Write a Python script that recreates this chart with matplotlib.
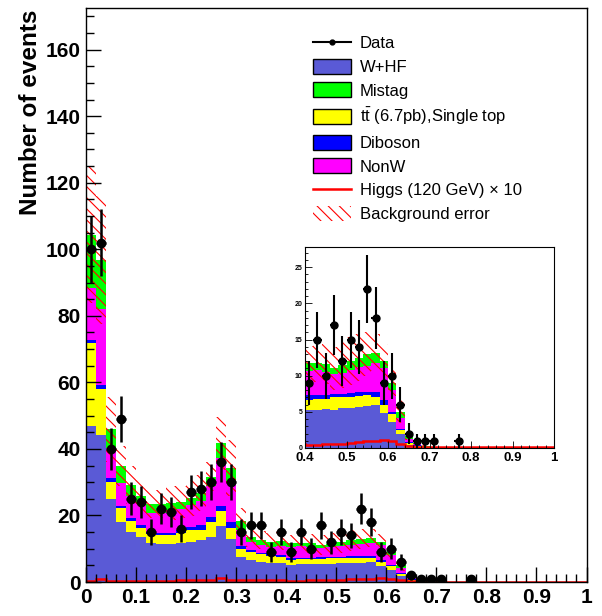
import matplotlib
matplotlib.use('Agg')
import matplotlib.pyplot as plt
from matplotlib.lines import Line2D
from matplotlib.patches import Patch
from matplotlib.ticker import MultipleLocator, FormatStrFormatter
import numpy as np

plt.rcParams['hatch.color'] = 'red'
plt.rcParams['hatch.linewidth'] = 0.8

# 50 bins of width 0.02 between 0 and 1
n_bins = 50
edges = np.linspace(0, 1, n_bins + 1)
centers = 0.5 * (edges[1:] + edges[:-1])

# background components, stacked bottom to top
w_hf = [47, 44.2, 24.9, 18.1, 15.1, 13.6, 11.6, 11.3, 11.3, 11.6,
        12.1, 12.6, 13.6, 16.8, 12.8, 7.6, 6.6, 6.1, 5.8, 5.8,
        5.2, 5.3, 5.4, 5.3, 5.5, 5.6, 5.7, 5.8, 5.9, 4.8,
        3.6, 1.9, 0.4, 0.2, 0.1, 0.05] + [0] * 14
top_single = [24.8, 13.8, 5.3, 4.1, 3.1, 2.5, 2.8, 2.8, 2.8, 3.2,
              3.5, 3.0, 4.5, 4.4, 3.3, 2.2, 2.5, 2.2, 2.1, 1.8,
              1.5, 1.5, 1.4, 1.7, 1.6, 1.5, 1.5, 1.5, 1.2, 1.2,
              1.1, 0.6, 0.3, 0.1, 0.02, 0.01] + [0] * 14
diboson = [1.0, 1.2, 1.0, 0.7, 1.0, 1.0, 0.7, 0.5, 0.7, 0.8,
           1.0, 1.5, 1.5, 1.7, 2.0, 1.0, 0.5, 0.5, 0.7, 0.5,
           0.6, 0.5, 0.5, 0.4, 0.4, 0.5, 0.5, 0.5, 0.6, 0.6,
           0.3, 0.1, 0.1, 0.05, 0.02, 0.01] + [0] * 14
non_w = [15.5, 22.8, 9.0, 6.8, 6.5, 6.6, 5.6, 6.1, 6.7, 6.3,
         6.6, 7.1, 9.1, 14.3, 11.6, 4.8, 2.5, 2.3, 2.0, 2.7,
         3.3, 3.5, 3.2, 2.9, 2.9, 3.2, 3.5, 3.5, 4.0, 4.5,
         3.0, 1.6, 0.4, 0.15, 0.06, 0.03] + [0] * 14
mistag = [16.1, 14.8, 5.7, 5.2, 3.5, 2.0, 2.8, 2.8, 2.2, 2.0,
          2.0, 2.5, 3.0, 4.5, 4.5, 2.8, 1.5, 1.5, 1.5, 1.5,
          1.1, 0.9, 1.1, 0.7, 1.1, 1.2, 1.3, 1.7, 1.5, 0.9,
          1.0, 0.8, 0.4, 0.2, 0.1, 0.05] + [0] * 14

bkg_err = [20.6, 19.2, 9.8, 6.1, 5.8, 5.0, 4.2, 4.2, 5.0, 4.8,
           5.5, 5.5, 4.5, 8.0, 8.5, 3.8, 3.0, 2.8, 2.7, 2.7,
           2.4, 2.6, 2.8, 3.0, 3.2, 3.3, 3.2, 3.0, 2.6, 2.4,
           1.8, 1.6, 0.5, 0.2, 0.1, 0.05] + [0] * 14

higgs_x10 = [0.3, 0.9, 0.3, 0.3, 0.3, 0.3, 0.3, 0.3, 0.3, 0.6,
             0.6, 0.6, 0.6, 1.2, 0.7, 0.5, 0.5, 0.5, 0.5, 0.5,
             0.4, 0.4, 0.5, 0.5, 0.6, 0.7, 0.8, 0.9, 0.9, 1.1,
             0.9, 0.6, 0.3, 0.2, 0.1, 0.1] + [0.1] * 14

data = [100, 102, 40, 49, 25, 24, 15, 22, 21, 16,
        27, 28, 30, 36, 30, 15, 17, 17, 9, 15,
        9, 15, 10, 17, 12, 15, 14, 22, 18, 9,
        10, 6, 2, 1, 1, 1, 0, 0, 1, 0] + [0] * 10

components = [(w_hf, '#5a5ad6'), (top_single, '#ffff00'), (diboson, '#0000ff'),
              (non_w, '#ff00ff'), (mistag, '#00ff00')]

HATCH = '\\\\\\'


def draw(ax, ms, elw):
    bottom = np.zeros(n_bins)
    for vals, col in components:
        top = bottom + np.array(vals)
        ax.stairs(top, edges, baseline=bottom, fill=True, color=col, lw=0)
        bottom = top
    err = np.array(bkg_err)
    ax.stairs(bottom + err, edges, baseline=bottom - err, fill=True,
              facecolor='none', edgecolor='red', hatch=HATCH, lw=0)
    ax.stairs(higgs_x10, edges, color='red', lw=1.8)
    d = np.array(data, dtype=float)
    m = d > 0
    ax.errorbar(centers[m], d[m], yerr=np.sqrt(d[m]), xerr=0.01, fmt='o',
                color='black', ms=ms, elinewidth=elw, capsize=0)


fig = plt.figure(figsize=(6.02, 6.16), dpi=100)
ax = fig.add_axes([86 / 602, 1 - 582 / 616, 500.5 / 602, 574 / 616])
draw(ax, 6, 1.8)
ax.set_xlim(0, 1)
ax.set_ylim(0, 172.5)
ax.xaxis.set_major_locator(MultipleLocator(0.1))
ax.xaxis.set_minor_locator(MultipleLocator(0.02))
ax.yaxis.set_major_locator(MultipleLocator(20))
ax.yaxis.set_minor_locator(MultipleLocator(5))
ax.xaxis.set_major_formatter(FormatStrFormatter('%g'))
ax.tick_params(which='both', direction='in', top=False, right=False, width=1)
ax.tick_params(which='major', length=11, pad=4)
ax.tick_params(which='minor', length=6)
for lab in ax.get_xticklabels() + ax.get_yticklabels():
    lab.set_family('Liberation Sans')
    lab.set_fontweight('bold')
    lab.set_fontsize(15)
for sp in ax.spines.values():
    sp.set_linewidth(1)

fig.text(31 / 602, 1 - 10 / 616, 'Number of events', rotation=90, ha='center',
         va='top', fontsize=17.5, fontweight='bold', family='Liberation Sans')

handles = [
    Line2D([], [], color='black', lw=1.5, marker='o', ms=3.5),
    Patch(facecolor='#5a5ad6', edgecolor='black', lw=1),
    Patch(facecolor='#00ff00', edgecolor='black', lw=1),
    Patch(facecolor='#ffff00', edgecolor='black', lw=1),
    Patch(facecolor='#0000ff', edgecolor='black', lw=1),
    Patch(facecolor='#ff00ff', edgecolor='black', lw=1),
    Line2D([], [], color='red', lw=1.8),
    Patch(facecolor='none', edgecolor='red', hatch=HATCH, lw=0),
]
labels = ['Data', 'W+HF', 'Mistag', r'$\mathregular{t\bar{t}}$ (6.7pb),Single top',
          'Diboson', 'NonW', 'Higgs (120 GeV) \u00d7 10', 'Background error']
fig.legend(handles, labels, loc='upper left', bbox_to_anchor=(313 / 602, 1 - 35 / 616),
           frameon=False, borderpad=0, borderaxespad=0, handlelength=2.3,
           handleheight=1.0, handletextpad=0.5, labelspacing=0.45,
           prop={'family': 'Liberation Sans', 'size': 12})

# inset zoomed on the high region
ins = fig.add_axes([305 / 602, 1 - 448 / 616, 249 / 602, 201 / 616])
draw(ins, 5, 1.5)
ins.set_xlim(0.4, 1)
ins.set_ylim(0, 27.8)
ins.xaxis.set_major_locator(MultipleLocator(0.1))
ins.xaxis.set_minor_locator(MultipleLocator(0.02))
ins.yaxis.set_major_locator(MultipleLocator(5))
ins.yaxis.set_minor_locator(MultipleLocator(1))
ins.xaxis.set_major_formatter(FormatStrFormatter('%g'))
ins.tick_params(which='both', direction='in', top=False, right=False, width=0.6)
ins.tick_params(which='major', length=5, pad=2)
ins.tick_params(which='minor', length=2.5)
ins.tick_params(axis='x', labelsize=9.5, pad=3)
ins.tick_params(axis='y', labelsize=5)
for lab in ins.get_xticklabels() + ins.get_yticklabels():
    lab.set_family('Liberation Sans')
    lab.set_fontweight('bold')
for sp in ins.spines.values():
    sp.set_linewidth(0.8)

fig.savefig('out.png', dpi=100)
